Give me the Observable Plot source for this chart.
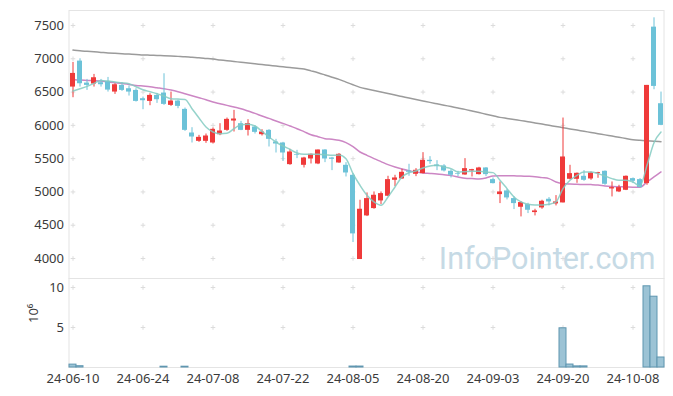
<!DOCTYPE html>
<html>
<head>
<meta charset="utf-8">
<script src="https://cdn.jsdelivr.net/npm/d3@7"></script>
<script src="https://cdn.jsdelivr.net/npm/@observablehq/plot@0.6"></script>
<style>
  html, body { margin: 0; padding: 0; background: #fff; }
  #chart svg { display: block; }
</style>
</head>
<body>
<div id="chart"></div>
<script>
// ---- data (one entry per trading day, index 0 = 24-06-10) ----
const opens  = [6575,6965,6635,6620,6640,6660,6500,6600,6550,6525, 6400,6360,6450,6485,6300,6365,6240,5885,5760,5760, 5735,5860,5925,6065,6025,5925,5975,5860,5925,5750, 5735,5410,5560,5400,5495,5420,5630,5510,5435,5400, 5250,3985,4640,4750,4865,4935,5175,5195,5315,5265, 5275,5475,5405,5390,5310,5275,5255,5315,5260,5360, 5185,4960,5015,4900,4770,4810,4690,4760,4890,4820, 4835,5190,5190,5235,5195,5275,5310,5045,5000,5025, 5200,5185,5125,7475,6325];
const highs  = [6945,7000,6690,6765,6690,6720,6625,6640,6590,6550, 6425,6475,6480,6775,6500,6380,6260,5965,5850,5870, 5960,6025,6110,6225,6060,6085,5995,5935,5935,5790, 5745,5640,5625,5520,5570,5630,5635,5520,5575,5440, 5275,4875,4985,5000,5000,5235,5250,5340,5415,5350, 5590,5530,5470,5410,5335,5310,5500,5340,5370,5365, 5210,5150,5040,4930,4855,4830,4740,4875,4915,4945, 6110,5400,5285,5320,5300,5295,5315,5150,5100,5240, 5210,5200,6600,7615,6500];
const lows   = [6415,6575,6525,6575,6575,6500,6465,6510,6440,6350, 6235,6295,6330,6300,6285,6250,5910,5735,5745,5730, 5720,5845,5910,5900,5920,5840,5870,5840,5675,5585, 5460,5400,5500,5360,5420,5410,5440,5320,5430,5225, 4240,3985,4630,4740,4810,4930,5080,5190,5235,5230, 5270,5415,5320,5300,5210,5230,5250,5225,5255,5230, 5120,4825,4880,4735,4625,4675,4640,4740,4790,4790, 4835,5180,5130,5160,5175,5205,5100,4925,4990,5020, 5125,5060,5100,6535,5995];
const closes = [6780,6625,6600,6715,6610,6530,6610,6525,6500,6360, 6370,6450,6385,6315,6365,6285,5925,5825,5820,5840, 5940,5915,6090,6095,5925,6025,5895,5900,5790,5720, 5585,5600,5550,5510,5565,5630,5495,5490,5565,5285, 4370,4740,4900,4950,4975,5185,5210,5295,5295,5325, 5475,5455,5380,5315,5250,5265,5350,5335,5360,5260, 5125,5000,4910,4825,4840,4725,4715,4860,4850,4850, 5525,5275,5280,5175,5285,5290,5115,5065,5065,5235, 5160,5065,6600,6585,6000];
// volume in millions of shares
const volumes = [0.36,0.16,0.02,0.02,0.02,0.02,0.02,0.02,0.02,0.02, 0.02,0.02,0.02,0.10,0.02,0.02,0.10,0.02,0.02,0.02, 0.02,0.02,0.02,0.02,0.02,0.02,0.02,0.02,0.02,0.02, 0.02,0.02,0.02,0.02,0.02,0.02,0.02,0.02,0.02,0.02, 0.12,0.12,0.02,0.02,0.02,0.02,0.02,0.02,0.02,0.02, 0.02,0.02,0.02,0.02,0.02,0.02,0.02,0.02,0.02,0.02, 0.02,0.02,0.02,0.02,0.02,0.02,0.02,0.02,0.02,0.02, 4.9,0.37,0.14,0.14,0.02,0.02,0.02,0.02,0.02,0.02, 0.02,0.02,10.15,8.85,1.25];
const ma5   = [6515,6550,6585,6630,6675,6665,6650,6640,6625,6580, 6535,6505,6475,6440,6400,6395,6390,6250,6110,5975, 5900,5875,5880,5950,6010,6015,5990,5910,5825,5750, 5690,5640,5585,5565,5565,5565,5560,5550,5555,5500, 5275,5100,4950,4850,4800,4925,5075,5225,5290,5315, 5360,5390,5400,5375,5350,5300,5305,5310,5310,5300, 5290,5175,5050,4925,4850,4815,4805,4805,4815,4850, 5050,5175,5250,5300,5300,5275,5240,5200,5175,5175, 5150,5090,5400,5740,5900];
const ma20  = [6690,6680,6675,6670,6665,6650,6640,6630,6615,6600, 6590,6580,6565,6550,6530,6505,6475,6445,6415,6385, 6350,6325,6300,6275,6250,6215,6180,6140,6105,6065, 6030,5990,5950,5905,5860,5830,5800,5790,5775,5740, 5680,5600,5550,5500,5455,5410,5375,5345,5320,5300, 5285,5278,5270,5258,5245,5225,5205,5200,5195,5210, 5240,5245,5245,5242,5240,5235,5228,5215,5200,5150, 5125,5118,5115,5112,5110,5105,5090,5082,5078,5075, 5072,5072,5150,5225,5300];
const ma120 = [7130,7120,7112,7104,7096,7088,7082,7076,7070,7065, 7058,7054,7050,7046,7042,7036,7030,7022,7015,7005, 6995,6983,6971,6959,6947,6935,6924,6913,6902,6891, 6880,6869,6858,6845,6818,6790,6757,6723,6690,6650, 6610,6570,6547,6524,6501,6478,6455,6433,6411,6389, 6367,6345,6324,6303,6282,6261,6240,6216,6192,6168, 6144,6120,6104,6088,6071,6055,6037,6019,6001,5983, 5965,5947,5929,5911,5893,5875,5857,5839,5821,5803, 5785,5775,5768,5762,5755];
const tickIndex  = [0,10,20,30,40,50,60,70,80];
const tickLabels = ["24-06-10","24-06-24","24-07-08","24-07-22","24-08-05","24-08-20","24-09-03","24-09-20","24-10-08"];
const priceTicks = [4000,4500,5000,5500,6000,6500,7000,7500];
const volumeTicks = [5,10];

// ---- build ----
const idx = closes.map((_, i) => i);
const UP = "#ef3a3a", DOWN = "#6cc2d8";
const col = i => closes[i] >= opens[i] ? UP : DOWN;
const font = {fontFamily: "'Noto Sans', sans-serif", fontSize: "13px", color: "#3a3a3a", background: "#fff", overflow: "visible"};
const ML = 68.5, MR = 9.5;

const priceGrid = tickIndex.flatMap(i => priceTicks.map(v => ({i, v})));
const volGrid = tickIndex.flatMap(i => volumeTicks.map(v => ({i, v})));

const price = Plot.plot({
  width: 673, height: 278,
  marginTop: 10, marginBottom: 0, marginLeft: ML, marginRight: MR,
  style: font,
  x: {type: "band", domain: idx, padding: 0, axis: null},
  y: {domain: [3700, 7725]},
  marks: [
    Plot.frame({stroke: "#e4e4e4"}),
    Plot.axisY({ticks: priceTicks, tickFormat: d3.format("d"), tickSize: 0, tickPadding: 5, label: null, fontSize: 13}),
    Plot.dot(priceGrid, {x: "i", y: "v", symbol: "plus", r: 1.6, stroke: "#dcdcdc", strokeWidth: 1}),
    Plot.text(["InfoPointer.com"], {frameAnchor: "bottom-right", textAnchor: "end", lineAnchor: "bottom", dx: -8.5, dy: -10, fontSize: 30.5, fill: "#c6dae5", fontFamily: "Roboto, sans-serif"}),
    Plot.line(idx, {x: i => i, y: i => ma120[i], stroke: "#9b9b9b", strokeWidth: 1.5, curve: "monotone-x"}),
    Plot.line(idx, {x: i => i, y: i => ma20[i], stroke: "#cc86c4", strokeWidth: 1.5, curve: "monotone-x"}),
    Plot.ruleX(idx, {x: i => i, y1: i => lows[i], y2: i => highs[i], stroke: col, strokeWidth: 1}),
    Plot.barY(idx, {x: i => i, y1: i => opens[i], y2: i => closes[i], fill: col, insetLeft: 1, insetRight: 1}),
    Plot.line(idx, {x: i => i, y: i => ma5[i], stroke: "#84cbc2", strokeWidth: 1.5, strokeOpacity: 0.85, curve: "monotone-x"})
  ]
});

const volume = Plot.plot({
  width: 673, height: 118,
  marginTop: 0, marginBottom: 29, marginLeft: ML, marginRight: MR,
  style: font,
  x: {type: "band", domain: idx, padding: 0},
  y: {domain: [0, 11.125]},
  marks: [
    Plot.frame({stroke: "#e4e4e4"}),
    Plot.axisY({ticks: volumeTicks, tickSize: 0, tickPadding: 5, label: null, fontSize: 13}),
    Plot.axisX({ticks: tickIndex, tickFormat: i => tickLabels[tickIndex.indexOf(i)], tickSize: 0, tickPadding: 6, label: null, fontSize: 13}),
    Plot.dot(volGrid, {x: "i", y: "v", symbol: "plus", r: 1.6, stroke: "#dcdcdc", strokeWidth: 1}),
    Plot.barY(idx, {filter: i => volumes[i] >= 0.05, x: i => i, y: i => volumes[i], fill: "#9cc3d5", stroke: "#5f96b0", strokeWidth: 1}),
    Plot.text(["10⁶"], {frameAnchor: "left", dx: -35, rotate: -90, fontSize: 13, fill: "#3a3a3a"})
  ]
});

document.getElementById("chart").append(price, volume);
</script>
</body>
</html>
